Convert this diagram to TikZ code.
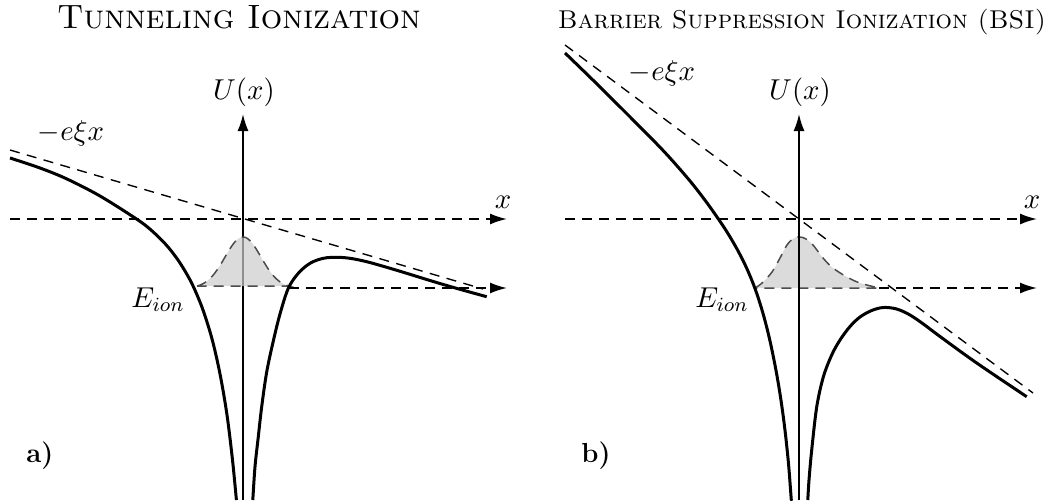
\RequirePackage{fix-cm}
\documentclass[tikz,border=0pt]{standalone}
\usepackage{tikz}
\usetikzlibrary{arrows.meta,calc}
\tikzset{
  uaxis/.style      = {line width=0.7pt, -{Latex[length=6.8pt,width=4.4pt]}},
  haxis/.style      = {line width=0.7pt, dash pattern=on 4pt off 2.8pt,
                       -{Latex[length=6.8pt,width=4.4pt]}},
  fieldline/.style  = {line width=0.55pt, dash pattern=on 4pt off 3pt},
  potcurve/.style   = {line width=1.2pt, line join=round},
  packet/.style     = {draw=black!70, line width=0.6pt, dash pattern=on 4pt off 2.8pt,
                       fill=black!20, fill opacity=0.7},
  paneltitle/.style = {font=\fontsize{#1}{#1}\selectfont\scshape, anchor=base},
  lbl/.style        = {font=\fontsize{11.5}{13}\selectfont, anchor=base, inner sep=0pt},
  panellbl/.style   = {font=\fontsize{11}{13}\selectfont\bfseries, anchor=base, inner sep=0pt}
}

\begin{document}
\begin{tikzpicture}[x=0.4pt,y=-0.4pt]
\useasboundingbox (0,0) rectangle (1044,500);

% --- a) tunneling ionization -----------------------------------------------
\node[paneltitle=13.5] (titlea) at (239,28) {Tunneling Ionization};

\coordinate (fieldsa) at (10,150);
\coordinate (fieldea) at (483,289);
\coordinate (xsa)     at (10,219);
\coordinate (xea)     at (507,219);
\coordinate (usa)     at (243,500);
\coordinate (uea)     at (243,114);
\coordinate (turna)   at (289,288);
\coordinate (eiona)   at (507,288);

\draw[fieldline] (fieldsa) -- (fieldea);
\draw[haxis] (xsa) -- (xea);
\draw[uaxis] (usa) -- (uea);

% the bound state
\draw[packet] plot[domain=-46:46, samples=60]
      ({243+\x},{288-51*exp(-(\x)*(\x)/648)}) -- cycle;
\draw[haxis] (turna) -- (eiona);

\draw[potcurve] plot[smooth, tension=0.55] coordinates
      {(10,158) (40,168) (67,179) (100,196) (136.5,219) (151,230)
       (166.3,245) (178,260) (187.3,275) (194,288) (203,310) (212.3,340)
       (220.2,375) (227,415) (232.5,460) (236.4,500)};
\draw[potcurve] plot[smooth, tension=0.55] coordinates
      {(252.8,500) (255,466.7) (258.3,436.7) (261.7,406.7) (266.7,372)
       (273.3,341) (280,314) (288.3,288.3) (298.3,273.3) (310,263.3)
       (323.3,258.3) (336.7,257.3) (350,258.3) (366.7,261.7) (386.7,267.3)
       (406.7,273.3) (426.7,279.5) (446.7,285.5) (466.7,291.2) (486.7,296.7)};

\node[lbl] (ua)    at (244,99)  {$U(x)$};
\node[lbl] (xa)    at (503,208) {$x$};
\node[lbl] (fa)    at (71,140)  {$-e\xi x$};
\node[lbl] (ea)    at (158,307) {$E_{ion}$};
\node[panellbl] (pa) at (40,462) {a)};

% --- b) barrier suppression ionization -------------------------------------
\node[paneltitle=10.3] (titleb) at (802,28) {Barrier Suppression Ionization (BSI)};

\coordinate (fieldsb) at (565,45);
\coordinate (fieldeb) at (1033,393);
\coordinate (xsb)     at (565,219);
\coordinate (xeb)     at (1037,219);
\coordinate (usb)     at (799,500);
\coordinate (ueb)     at (799,114);
\coordinate (turnb)   at (879,288);
\coordinate (eionb)   at (1037,288);

\draw[fieldline] (fieldsb) -- (fieldeb);
\draw[haxis] (xsb) -- (xeb);

% the bound state, pulled towards the open side
\draw[packet] plot[smooth, tension=0.6] coordinates
      {(755,288) (762,283) (772,272) (780,258) (787,245) (794,238)
       (800,237) (806,239) (813,245) (823,258) (833,268) (847,277)
       (860,283) (879,288)} -- cycle;
\draw[uaxis] (usb) -- (ueb);
\draw[haxis] (turnb) -- (eionb);

\draw[potcurve] plot[smooth, tension=0.55] coordinates
      {(565,53) (600,87) (650,137) (670,158) (690,181) (705,200.2)
       (717,217) (727,232) (737,249) (745,264.6) (752,280.7) (758,297.2)
       (764,317) (770,341) (776,370.4) (781,400.4) (785,430.4)
       (788.5,463.7) (791,496.2) (791.3,500)};
\draw[potcurve] plot[smooth, tension=0.55] coordinates
      {(807.8,500) (809,480) (811.7,450) (816.7,407) (823.3,377)
       (831.7,355) (840,340) (850,326.5) (860,317) (871.7,310.5)
       (883.3,307.5) (896.7,309) (910,315) (923.3,324) (940,336.5)
       (976.7,363) (1026.7,396.7)};

\node[lbl] (ub)    at (800,99)  {$U(x)$};
\node[lbl] (xb)    at (1032,208) {$x$};
\node[lbl] (fb)    at (662,80)  {$-e\xi x$};
\node[lbl] (eb)    at (722,307) {$E_{ion}$};
\node[panellbl] (pb) at (596,462) {b)};

\end{tikzpicture}
\end{document}
